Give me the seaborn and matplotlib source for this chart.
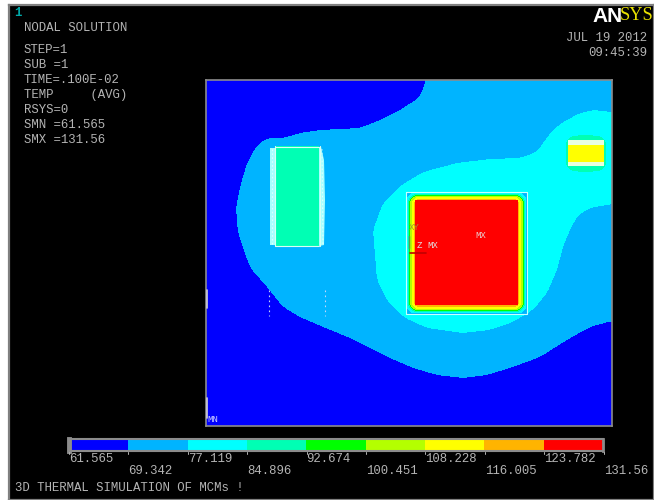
import numpy as np
import matplotlib
matplotlib.use("Agg")
import matplotlib.pyplot as plt
import seaborn as sns
from matplotlib.colors import ListedColormap
from matplotlib.path import Path

# ---- data -------------------------------------------------------------
band_colors = ["#0000ff", "#00b4ff", "#00ffff", "#00ffb4", "#00ff00",
               "#b4ff00", "#ffff00", "#ffb400", "#ff0000"]
band_index = [0, 1, 2, 3, 4, 5, 6, 7, 8]
level_labels = ["61.565", "69.342", "77.119", "84.896", "92.674",
                "100.451", "108.228", "116.005", "123.782", "131.56"]
info_lines = ["STEP=1", "SUB =1", "TIME=.100E-02", "TEMP     (AVG)",
              "RSYS=0", "SMN =61.565", "SMX =131.56"]

# contour outlines (image pixels)
band1_x = [426, 420, 400, 380, 360, 320, 300, 283, 267, 257, 247, 240, 236, 238, 247, 252,
           267, 283, 300, 323, 350, 370, 390, 413, 437, 463, 487, 513, 540, 567, 590, 612, 612]
band1_y = [80, 97, 110, 120, 128, 130, 133, 138, 138, 145, 163, 187, 208, 233, 260, 270,
           287, 307, 317, 327, 338, 348, 358, 368, 375, 378, 375, 367, 357, 340, 327, 321, 80]
band2_x = [612, 593, 580, 563, 553, 545, 537, 520, 490, 457, 423, 403, 383, 373, 377, 387,
           403, 427, 463, 490, 513, 533, 547, 557, 563, 570, 578, 590, 612]
band2_y = [112, 110, 113, 122, 130, 140, 152, 158, 159, 163, 172, 184, 203, 230, 280, 300,
           317, 328, 333, 330, 322, 310, 293, 270, 247, 230, 215, 208, 204]
halo_x = [572, 585, 600, 606, 606, 600, 585, 572, 566, 566]
halo_y = [136, 135, 136, 142, 165, 171, 172, 171, 165, 142]
# component rectangles: x0, x1, y0, y1, band
chip_x0 = [275, 568]
chip_x1 = [319, 604]
chip_y0 = [146, 145]
chip_y1 = [246, 162]
chip_band = [3, 6]
# rings around the hot chip: band, left, right, top, bottom, corner radius
ring_band = [1, 2, 3, 4, 5, 6, 7, 8]
ring_x0 = [406, 407, 408, 409, 410, 412, 414, 415]
ring_x1 = [527, 526, 525, 524, 523, 521, 519, 518]
ring_y0 = [192, 193, 194, 195, 196, 197, 199, 200]
ring_y1 = [314, 313, 312, 311, 310, 309, 307, 305]
ring_r = [0, 7, 9, 9, 8, 7, 5, 0]

# ---- raster of the temperature bands -----------------------------------
X0, X1, Y0, Y1 = 206, 612, 80, 426
W, H = 654, 500
xs = np.arange(X0, X1) + 0.5
ys = np.arange(Y0, Y1) + 0.5
gx, gy = np.meshgrid(xs, ys)
pts = np.column_stack([gx.ravel(), gy.ravel()])


def box(a, n, axis):
    pad = [(0, 0), (0, 0)]
    pad[axis] = (n, n)
    a = np.pad(a, pad, mode="edge")
    c = np.cumsum(np.insert(a, 0, 0, axis=axis), axis=axis)
    hi = np.take(c, range(2 * n + 1, c.shape[axis]), axis=axis)
    lo = np.take(c, range(0, c.shape[axis] - 2 * n - 1), axis=axis)
    return (hi - lo) / (2 * n + 1)


def poly_mask(px, py, n=4):
    m = Path(np.column_stack([px, py])).contains_points(pts).reshape(gx.shape).astype(float)
    for _ in range(2):
        m = box(box(m, n, 0), n, 1)
    return m > 0.5


def round_mask(x0, x1, y0, y1, r):
    cx, cy = (x0 + x1) / 2, (y0 + y1) / 2
    dx = np.abs(gx - cx) - ((x1 - x0) / 2 - r)
    dy = np.abs(gy - cy) - ((y1 - y0) / 2 - r)
    return np.hypot(np.clip(dx, 0, None), np.clip(dy, 0, None)) <= r


field = np.zeros(gx.shape, dtype=float)
field[poly_mask(band1_x, band1_y)] = 1
field[poly_mask(band2_x, band2_y)] = 2
field[poly_mask(halo_x, halo_y, 2)] = 3
for b, a, c, d, e in zip(chip_band, chip_x0, chip_x1, chip_y0, chip_y1):
    field[round_mask(a, c, d, e, 0)] = b
for b, a, c, d, e, r in zip(ring_band, ring_x0, ring_x1, ring_y0, ring_y1, ring_r):
    field[round_mask(a, c, d, e, r)] = b

cmap = ListedColormap(band_colors)
sns.set_theme(style="white")
mono = "Liberation Mono"
GRAY = "#b4b4b4"

fig = plt.figure(figsize=(W / 100, H / 100), dpi=100, facecolor="white")


def pix_axes(x0, x1, y0, y1, z):
    return fig.add_axes([x0 / W, 1 - y1 / H, (x1 - x0) / W, (y1 - y0) / H], zorder=z)


base = pix_axes(9, 654, 5, 500, 0)
base.set_facecolor("black")
base.set_xticks([]); base.set_yticks([])
for s in base.spines.values():
    s.set_color("#808080"); s.set_linewidth(1.6)

ax = pix_axes(X0, X1, Y0, Y1, 1)
sns.heatmap(field, ax=ax, cmap=cmap, vmin=-0.5, vmax=8.5, cbar=False,
            xticklabels=False, yticklabels=False)
for s in ax.spines.values():
    s.set_visible(True); s.set_color("#8c8c8c"); s.set_linewidth(1.2)

cb = pix_axes(69, 603, 439, 451, 1)
sns.heatmap(np.array([band_index]), ax=cb, cmap=cmap, vmin=-0.5, vmax=8.5, cbar=False,
            xticklabels=False, yticklabels=False)
for s in cb.spines.values():
    s.set_visible(True); s.set_color("#8c8c8c"); s.set_linewidth(1.5)
cb.spines["left"].set_linewidth(3.5)
cb.spines["right"].set_linewidth(2.0)

ov = pix_axes(0, W, 0, H, 2)
ov.set_xlim(0, W); ov.set_ylim(H, 0); ov.axis("off"); ov.patch.set_alpha(0)


def T(x, y, s, color=GRAY, size=8.9, family=mono, **kw):
    ov.text(x, y, s, color=color, fontsize=size, family=family, va="center", **kw)


T(14, 13, "1", color="#00a8a8", weight="bold")
T(24, 28, "NODAL SOLUTION")
for y, s in zip([50, 65, 80, 95, 110, 125, 140], info_lines):
    T(24, y, s)
T(647, 38, "JUL 19 2012", ha="right")
T(647, 53, "09:45:39", ha="right")
T(592, 16, "AN", color="white", size=15, family="Liberation Sans", weight="bold")
T(620, 16, "SYS", color="#e8e000", size=13.2, family="Liberation Serif")

for i, s in enumerate(level_labels):
    x = 69 + i * 59.4
    T(x, 459 if i % 2 == 0 else 471, s)
    ov.plot([x, x], [452, 454], color=GRAY, lw=0.7)
T(15, 488, "3D THERMAL SIMULATION OF MCMs !")

# labels and small marks inside the model
T(475, 236, "MX", color="#e8d0d0", size=6.5)
T(207, 420, "MN", color="#c8c8ff", size=6.5)
T(409, 228, "XY", color="#a09030", size=6.5)
T(417, 246, "Z", color="#e0e0e0", size=6.5)
T(427, 246, "MX", color="#e0e0e0", size=6.5)
ov.plot([409, 409], [236, 248], color="#50a050", lw=1)
ov.plot([410, 426], [253, 253], color="#c00000", lw=1.2)

# pale pin strips on the packages
ov.fill_between([270, 275], [148, 148], [245, 245], color="#a8ffff", lw=0)
ov.fill([319, 321, 324, 325, 324, 319], [147, 147, 160, 200, 245, 246], color="#a8ffff", lw=0)
ov.plot([274.5, 274.5], [146, 246], color="#d8fff4", lw=0.8)
ov.plot([319.5, 319.5], [146, 246], color="#d8fff4", lw=0.8)
ov.plot([275, 319], [146.5, 146.5], color="#d8fff4", lw=0.8)
ov.plot([275, 319], [245.5, 245.5], color="#d8fff4", lw=0.8)
ov.plot([271.5, 271.5], [149, 244], color="white", lw=0.8, ls=(0, (1.5, 2)), alpha=0.6)
ov.plot([322, 323], [149, 244], color="white", lw=0.8, ls=(0, (1.5, 2)), alpha=0.6)
ov.fill_between([568, 604], [140, 140], [145, 145], color="#e8ffe0", lw=0)
ov.fill_between([568, 604], [162, 162], [166, 166], color="#e8ffe0", lw=0)
ov.plot([406, 527, 527, 406, 406], [192, 192, 314, 314, 192], color="#c8ffff", lw=0.8)
for xv in (268.5, 324.5):
    ov.plot([xv, xv], [290, 316], color="#c0d8ff", lw=0.8, ls=(0, (1.5, 3)))
ov.plot([206.8, 206.8], [290, 308], color="#d0d0d0", lw=1.2)
ov.plot([206.8, 206.8], [398, 418], color="#d0d0d0", lw=1.2)

fig.savefig("out.png", dpi=100)
